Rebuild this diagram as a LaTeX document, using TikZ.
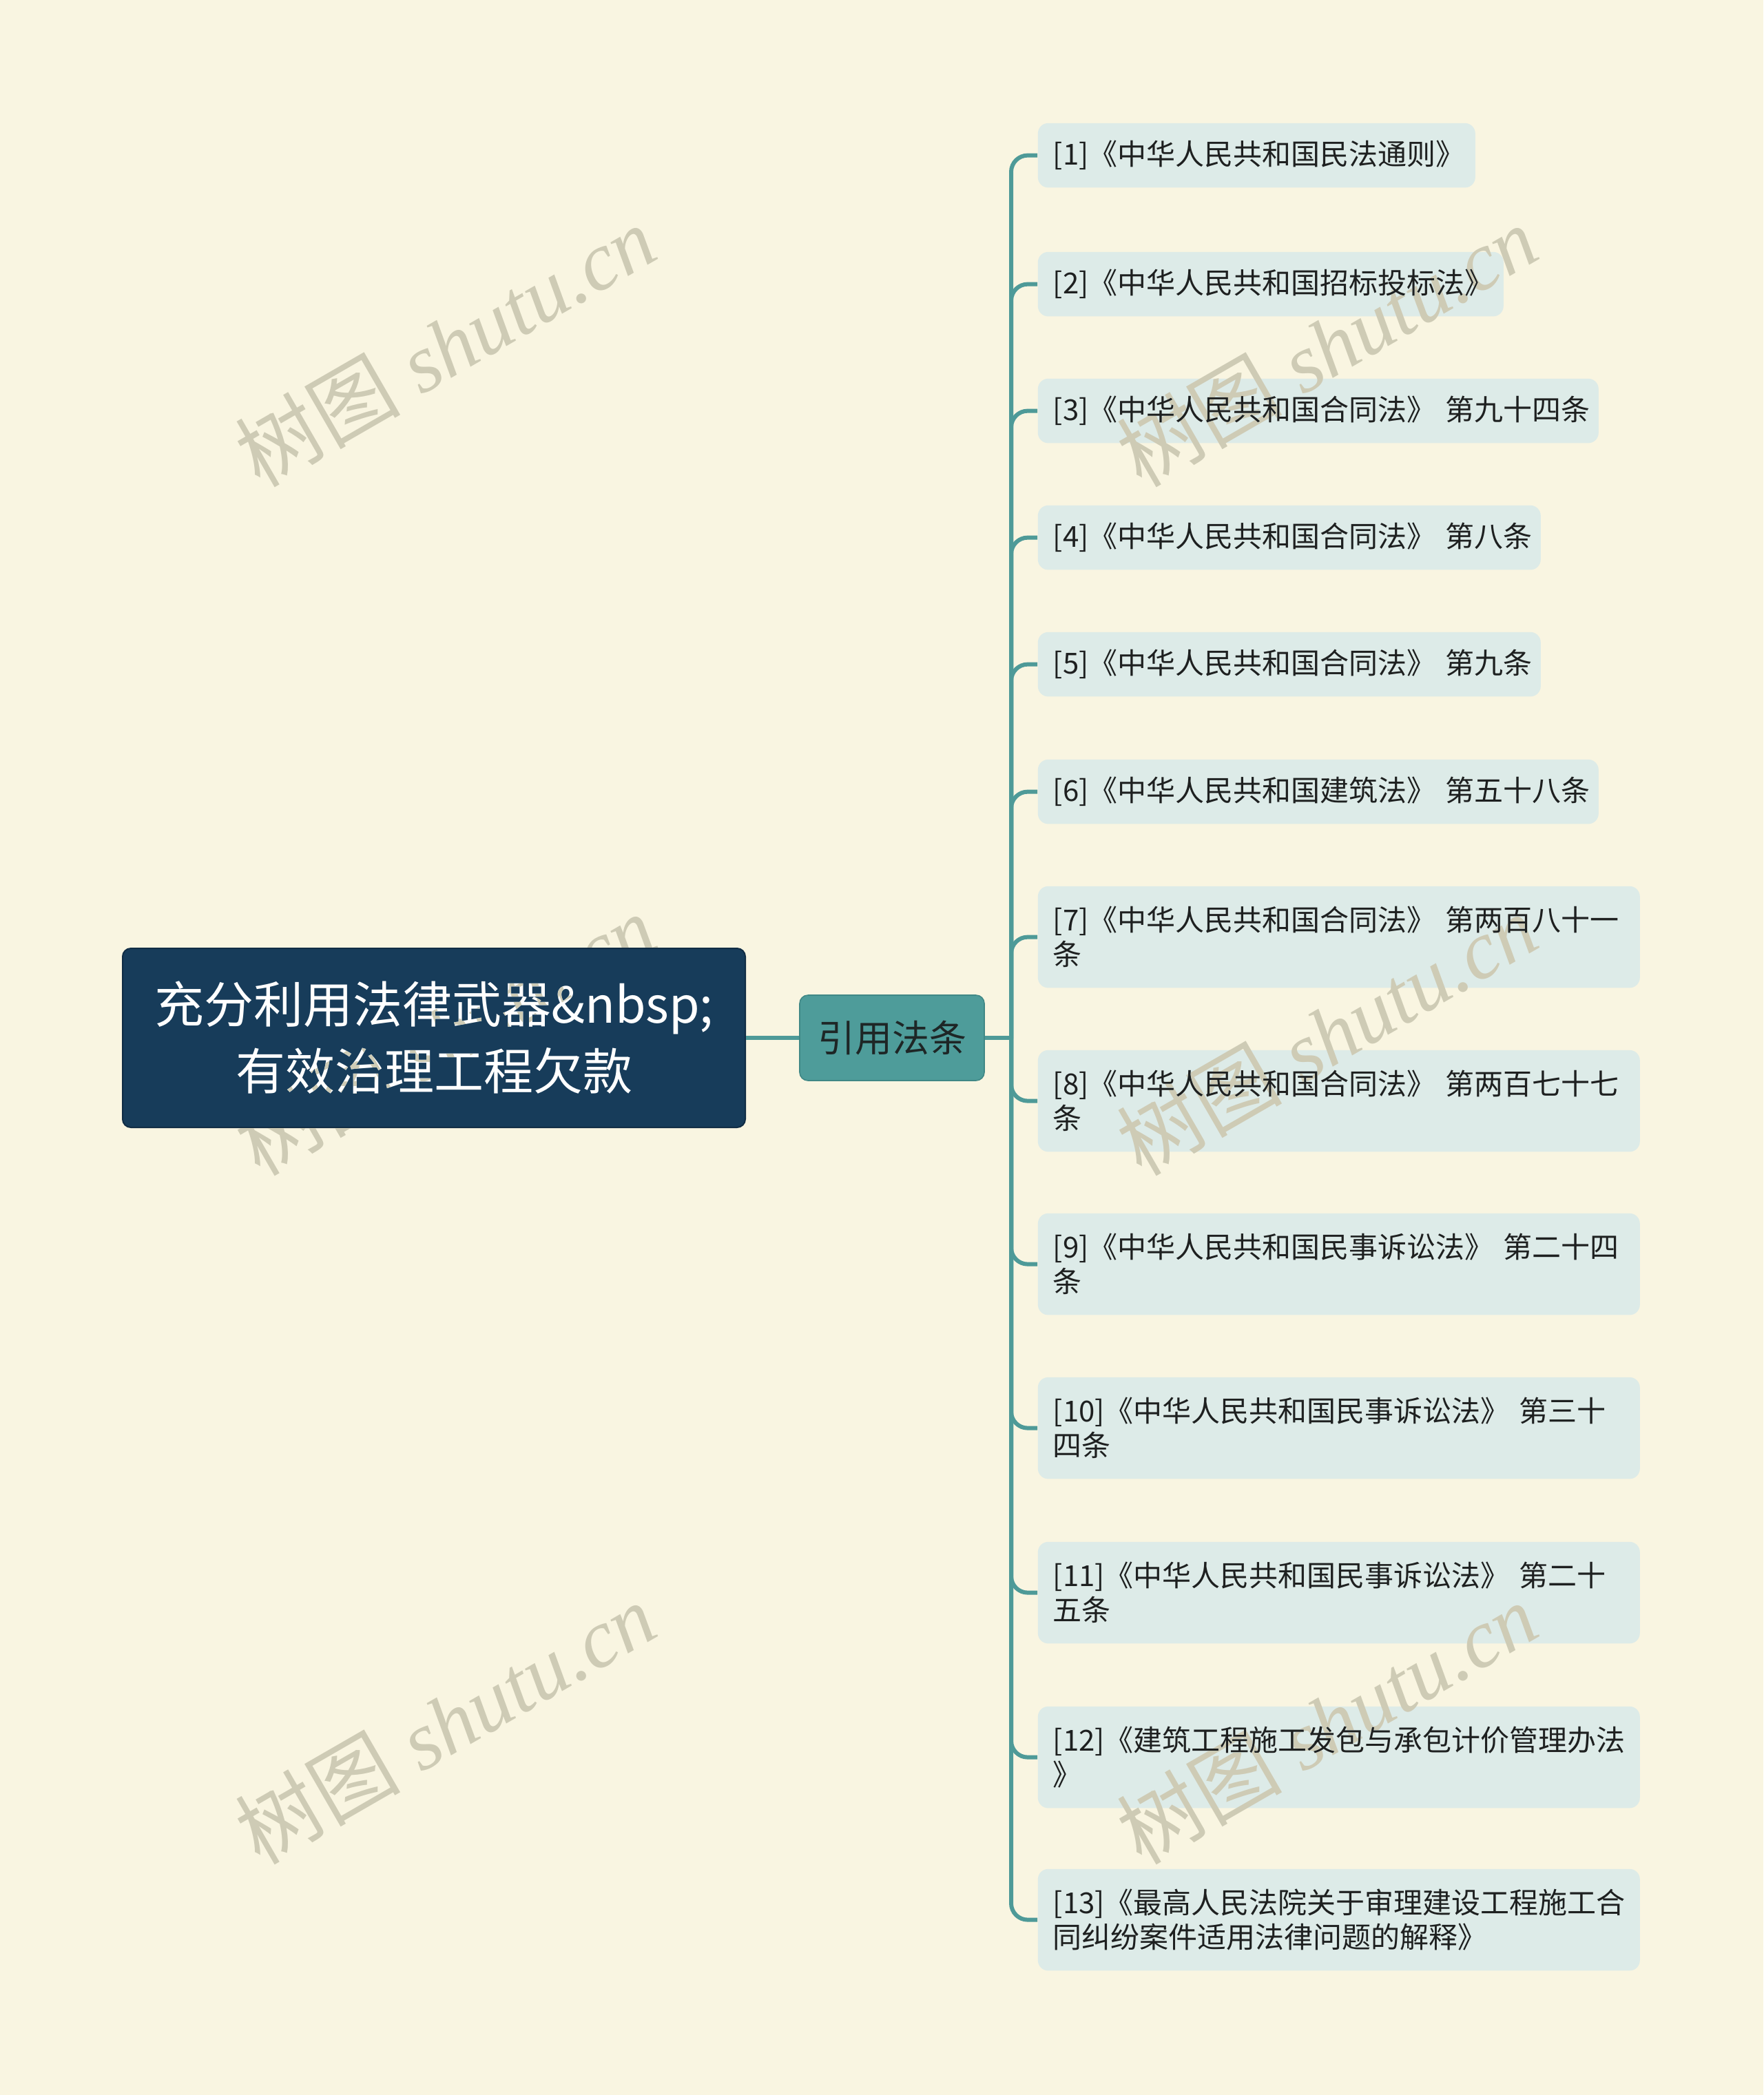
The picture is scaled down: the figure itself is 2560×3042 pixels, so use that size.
\documentclass[tikz,border=0pt]{standalone}
\usepackage{fontspec}
\newfontfamily\cjk{Noto Sans CJK SC}
\newfontfamily\wmfont{Liberation Serif}
\definecolor{bgc}{RGB}{249,245,225}
\definecolor{rootc}{RGB}{23,60,90}
\definecolor{rootb}{RGB}{16,44,68}
\definecolor{midc}{RGB}{78,156,154}
\definecolor{midb}{RGB}{64,136,134}
\definecolor{midtext}{RGB}{30,38,38}
\definecolor{leafc}{RGB}{221,235,232}
\definecolor{leaftext}{RGB}{30,32,32}
\definecolor{connc}{RGB}{78,154,152}
\definecolor{wmc}{RGB}{206,203,181}
\tikzset{
  rootbox/.style={fill=rootc, draw=rootb, line width=0.5pt, rounded corners=3pt,
    minimum width=226pt, minimum height=65pt, inner sep=0pt, text=white, align=center,
    font=\cjk\fontsize{18pt}{24.25pt}\selectfont},
  midbox/.style={fill=midc, draw=midb, line width=0.4pt, rounded corners=3pt,
    minimum width=67pt, minimum height=31pt, inner sep=0pt, text=midtext,
    font=\cjk\fontsize{13.5pt}{16pt}\selectfont},
  leafbox/.style={fill=leafc, rounded corners=3.75pt, anchor=north west,
    inner xsep=5.5pt, inner ysep=0pt, align=left, text=leaftext,
    font=\cjk\fontsize{10.5pt}{12.5pt}\selectfont},
  one/.style={minimum height=23.4pt},
  two/.style={minimum height=36.9pt, text width=207.5pt},
  conn/.style={draw=connc, line width=1.5pt},
  wm/.style={text=wmc, blend mode=darken, rotate=30, inner sep=0pt,
    font=\wmfont\itshape\fontsize{30pt}{30pt}\selectfont}
}
\begin{document}
\begin{tikzpicture}[x=0.25pt,y=-0.25pt]
\fill[bgc] (0,0) rectangle (2560,3042);
\useasboundingbox (0,0) rectangle (2560,3042);

\node[rootbox] (root) at (630,1507) {充分利用法律武器\&nbsp;\\有效治理工程欠款};
\node[midbox] (mid) at (1295,1507) {引用法条};
\coordinate (spine) at (1468,1507);

\node[leafbox, one, text width=147.75pt] (l1) at (1506,178) {[1]《中华人民共和国民法通则》};
\node[leafbox, one, text width=158pt] (l2) at (1506,365) {[2]《中华人民共和国招标投标法》};
\node[leafbox, one, text width=192.5pt] (l3) at (1506,549) {[3]《中华人民共和国合同法》~第九十四条};
\node[leafbox, one, text width=171.5pt] (l4) at (1506,733) {[4]《中华人民共和国合同法》~第八条};
\node[leafbox, one, text width=171.5pt] (l5) at (1506,917) {[5]《中华人民共和国合同法》~第九条};
\node[leafbox, one, text width=192.5pt] (l6) at (1506,1102) {[6]《中华人民共和国建筑法》~第五十八条};
\node[leafbox, two] (l7) at (1506,1286) {[7]《中华人民共和国合同法》~第两百八十一\\条};
\node[leafbox, two] (l8) at (1506,1524) {[8]《中华人民共和国合同法》~第两百七十七\\条};
\node[leafbox, two] (l9) at (1506,1761) {[9]《中华人民共和国民事诉讼法》~第二十四\\条};
\node[leafbox, two] (l10) at (1506,1999) {[10]《中华人民共和国民事诉讼法》~第三十\\四条};
\node[leafbox, two] (l11) at (1506,2238) {[11]《中华人民共和国民事诉讼法》~第二十\\五条};
\node[leafbox, two] (l12) at (1506,2477) {[12]《建筑工程施工发包与承包计价管理办法\\》};
\node[leafbox, two] (l13) at (1506,2713) {[13]《最高人民法院关于审理建设工程施工合\\同纠纷案件适用法律问题的解释》};

\draw[conn] (root.east) -- (mid.west);
\draw[conn] (mid.east) -- (spine);
\foreach \i in {1,...,13}{
  \draw[conn, rounded corners=6pt] (spine) |- (l\i.west);
}

\node[wm] (w1) at (646,502) {{\cjk 树图} shutu.cn};
\node[wm] (w2) at (1926,502) {{\cjk 树图} shutu.cn};
\node[wm] (w3) at (646,1502) {{\cjk 树图} shutu.cn};
\node[wm] (w4) at (1926,1502) {{\cjk 树图} shutu.cn};
\node[wm] (w5) at (646,2502) {{\cjk 树图} shutu.cn};
\node[wm] (w6) at (1926,2502) {{\cjk 树图} shutu.cn};
\end{tikzpicture}
\end{document}
